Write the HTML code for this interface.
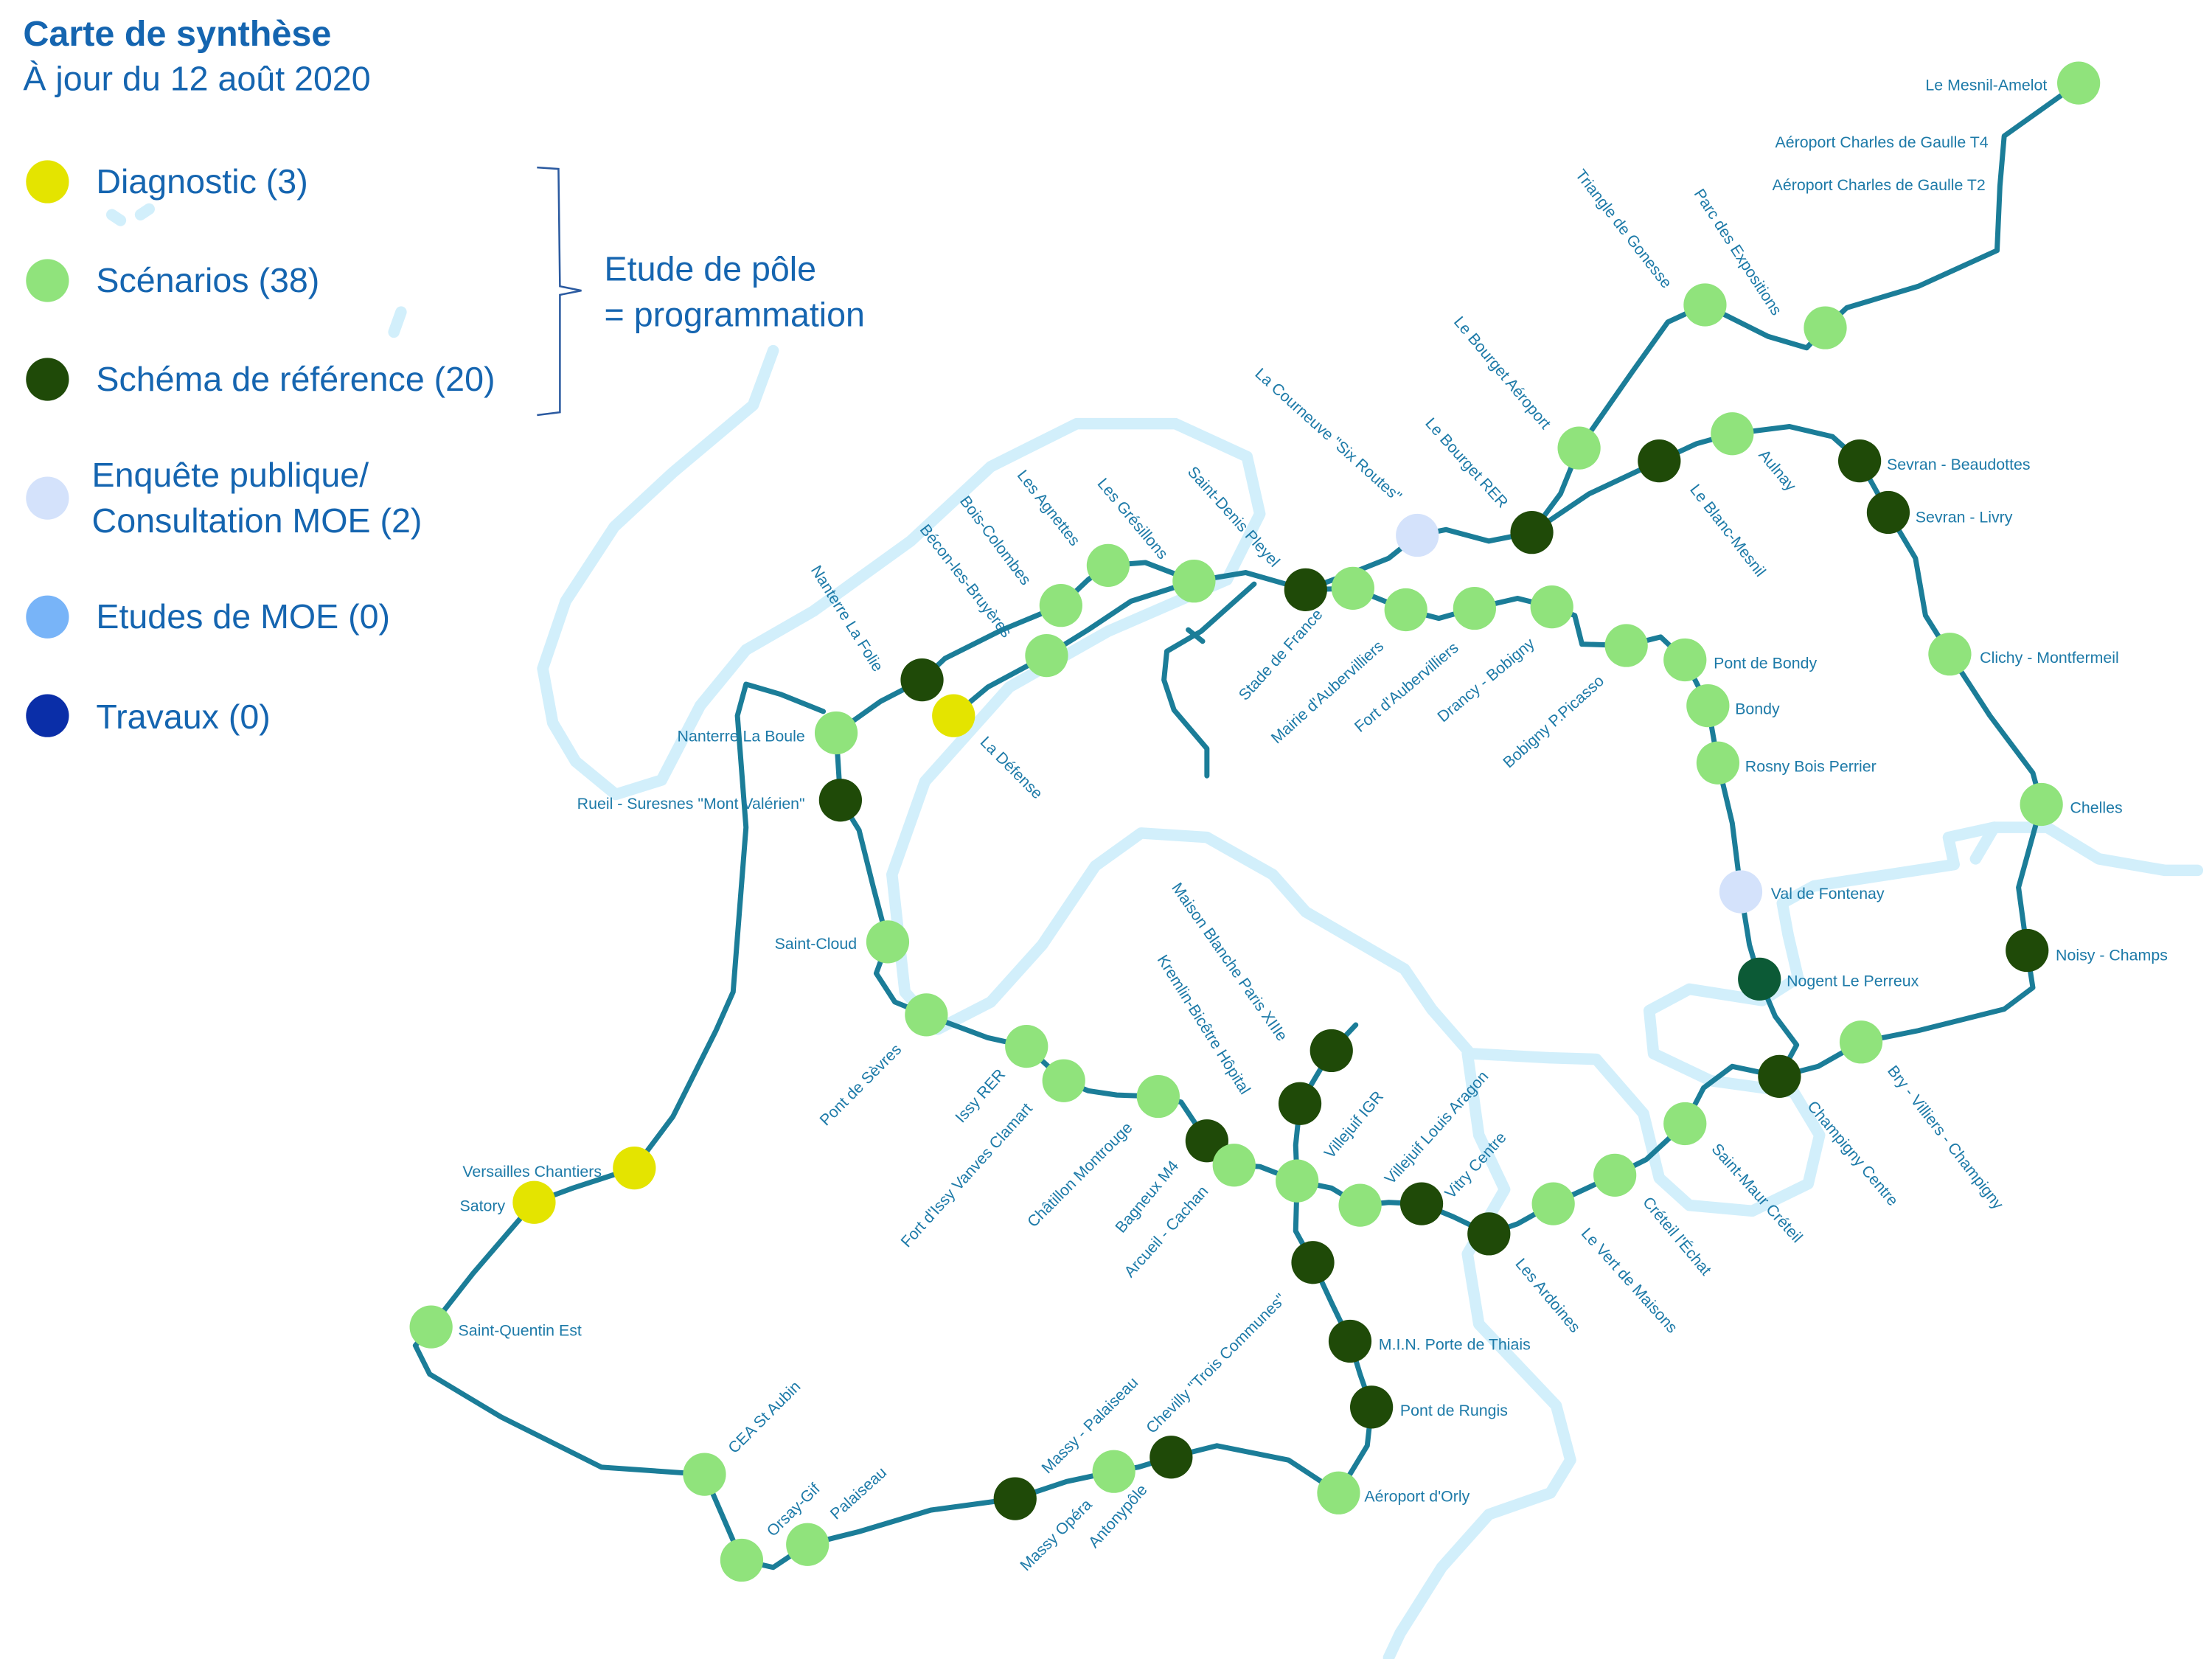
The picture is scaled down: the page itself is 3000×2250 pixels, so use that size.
<!DOCTYPE html>
<html><head><meta charset="utf-8"><style>
html,body{margin:0;padding:0;background:#fff}
svg{display:block}
text{font-family:"Liberation Sans Narrow","Liberation Sans",sans-serif;fill:#1d7aa8}
.lg{font-size:24px;fill:#1565b0}
.s{font-size:11px;fill:#1d7aa8}
.r{fill:none;stroke:#d2effb;stroke-width:8;stroke-linecap:round;stroke-linejoin:round}
.l{fill:none;stroke:#1b7d98;stroke-width:3.6;stroke-linecap:round;stroke-linejoin:round}
.a{fill:#90e37c}.d{fill:#1f4a08}.y{fill:#e4e400}.p{fill:#d4e2fb}
</style></head><body>
<svg width="3000" height="2250" viewBox="0 0 1545 1159" xmlns="http://www.w3.org/2000/svg">
<!-- rivers -->
<path class="r" d="M540 245 L526 283 L470 330 L429 368 L395 420 L379 467 L386 505 L402 532 L430 555 L462 545 L489 493 L521 454 L568 427 L636 378 L692 326 L752 296 L821 296 L871 319 L880 359 L857 405 L774 441 L705 480 L646 546 L623 611 L632 693 L655 719 L692 700 L728 660 L765 605 L797 582 L843 585 L889 611 L912 637 L981 677 L1000 705 L1027 736 L1082 739 L1115 740 L1148 778 L1159 823 L1180 842 L1224 846 L1263 827 L1271 793 L1253 763 L1195 755 L1155 736 L1152 706 L1180 691 L1231 699 L1256 683 L1249 653 L1245 631 L1267 619 L1365 604 L1361 585 L1393 578 L1430 578 L1466 600 L1512 608 L1535 608"/>
<path class="r" d="M1025 736 L1033 793 L1051 831 L1025 876 L1033 925 L1051 944 L1087 982 L1097 1020 L1083 1043 L1040 1058 L1007 1095 L978 1141 L970 1158"/>
<path class="r" d="M1393 578 L1380 600 M78 150 L84 154 M98 150 L104 146 M275 232 L280 218"/>
<!-- lines -->
<path class="l" d="M1452 58 L1400 95 L1397 130 L1395 175 L1340 200 L1290 215 L1275 229 L1262 243 L1235 235 L1191 213 L1165 225 L1140 260 L1103 313 L1090 345 L1070 372"/>
<path class="l" d="M1070 372 L1110 345 L1159 322 L1185 310 L1210 303 L1250 298 L1280 305 L1299 322 L1319 358 L1338 390 L1345 430 L1362 457 L1390 500 L1420 540 L1426 562 L1410 620 L1416 664 L1420 690 L1400 705 L1340 720 L1300 728 L1270 745 L1243 752"/>
<path class="l" d="M1070 372 L1040 378 L1010 370 L990 374 L970 390 L945 400 L912 412 L870 400 L834 406 L800 393 L774 395 L760 405 L741 423 L700 440 L660 460 L644 475 L615 490 L584 512"/>
<path class="l" d="M912 412 L945 411 L982 426 L1005 432 L1030 425 L1060 418 L1084 424 L1100 430 L1105 450 L1136 451 L1160 445 L1177 461 L1193 493 L1200 533 L1210 575 L1216 623 L1222 660 L1229 684 L1240 710 L1255 730 L1243 752 L1210 745 L1190 760 L1177 785 L1150 810 L1128 821 L1085 841 L1060 855 L1040 862 L1015 850 L993 841 L970 840 L950 842 L930 830 L906 825 L880 815 L862 814 L843 797 L825 770 L809 766 L780 765 L760 762 L743 755 L717 731 L690 725 L647 709 L625 700 L612 680 L620 658 L610 620 L600 580 L587 559 L584 512"/>
<path class="l" d="M666 500 L690 480 L731 458 L760 440 L790 420 L834 406"/>
<path class="l" d="M947 716 L930 734 L908 771 L905 800 L906 825 L905 860 L917 882 L930 910 L943 937 L950 960 L958 983 L955 1010 L935 1043 L900 1020 L850 1010 L818 1018 L795 1025 L778 1028 L745 1035 L709 1047 L650 1055 L600 1070 L564 1079 L540 1095 L518 1090 L505 1060 L492 1030 L420 1025 L350 990 L300 960 L290 940 L301 927 L330 890 L373 840 L400 830 L443 816 L470 780 L500 720 L512 693 L521 578 L515 500 L521 478 L545 485 L575 497"/>
<path class="l" d="M876 408 L839 441 L815 455 L813 475 L820 496 L843 523 L843 542 M830 440 L840 448"/>
<!-- stations -->
<g>
<circle class="a" cx="1452" cy="58" r="15"/>
<circle class="a" cx="1191" cy="213" r="15"/><circle class="a" cx="1275" cy="229" r="15"/>
<circle class="a" cx="1103" cy="313" r="15"/><circle class="d" cx="1070" cy="372" r="15"/>
<circle class="p" cx="990" cy="374" r="15"/><circle class="d" cx="1159" cy="322" r="15"/>
<circle class="a" cx="1210" cy="303" r="15"/><circle class="d" cx="1299" cy="322" r="15"/>
<circle class="d" cx="1319" cy="358" r="15"/><circle class="a" cx="1362" cy="457" r="15"/>
<circle class="a" cx="1426" cy="562" r="15"/><circle class="d" cx="1416" cy="664" r="15"/>
<circle class="a" cx="1300" cy="728" r="15"/><circle class="d" cx="1243" cy="752" r="15"/>
<circle style="fill:#0c5a36" cx="1229" cy="684" r="15"/><circle class="p" cx="1216" cy="623" r="15"/>
<circle class="a" cx="1200" cy="533" r="15"/><circle class="a" cx="1193" cy="493" r="15"/>
<circle class="a" cx="1177" cy="461" r="15"/><circle class="a" cx="1136" cy="451" r="15"/>
<circle class="a" cx="1084" cy="424" r="15"/><circle class="a" cx="1030" cy="425" r="15"/>
<circle class="a" cx="982" cy="426" r="15"/><circle class="a" cx="945" cy="411" r="15"/>
<circle class="d" cx="912" cy="412" r="15"/><circle class="a" cx="834" cy="406" r="15"/>
<circle class="a" cx="774" cy="395" r="15"/><circle class="a" cx="741" cy="423" r="15"/>
<circle class="a" cx="731" cy="458" r="15"/><circle class="d" cx="644" cy="475" r="15"/>
<circle class="y" cx="666" cy="500" r="15"/><circle class="a" cx="584" cy="512" r="15"/>
<circle class="d" cx="587" cy="559" r="15"/><circle class="a" cx="620" cy="658" r="15"/>
<circle class="a" cx="647" cy="709" r="15"/><circle class="a" cx="717" cy="731" r="15"/>
<circle class="a" cx="743" cy="755" r="15"/><circle class="a" cx="809" cy="766" r="15"/>
<circle class="d" cx="843" cy="797" r="15"/><circle class="a" cx="862" cy="814" r="15"/>
<circle class="a" cx="906" cy="825" r="15"/><circle class="a" cx="950" cy="842" r="15"/>
<circle class="d" cx="993" cy="841" r="15"/><circle class="d" cx="1040" cy="862" r="15"/>
<circle class="a" cx="1085" cy="841" r="15"/><circle class="a" cx="1128" cy="821" r="15"/>
<circle class="a" cx="1177" cy="785" r="15"/>
<circle class="d" cx="930" cy="734" r="15"/><circle class="d" cx="908" cy="771" r="15"/>
<circle class="d" cx="917" cy="882" r="15"/><circle class="d" cx="943" cy="937" r="15"/>
<circle class="d" cx="958" cy="983" r="15"/><circle class="a" cx="935" cy="1043" r="15"/>
<circle class="d" cx="818" cy="1018" r="15"/><circle class="a" cx="778" cy="1028" r="15"/>
<circle class="d" cx="709" cy="1047" r="15"/><circle class="a" cx="564" cy="1079" r="15"/>
<circle class="a" cx="518" cy="1090" r="15"/><circle class="a" cx="492" cy="1030" r="15"/>
<circle class="a" cx="301" cy="927" r="15"/><circle class="y" cx="373" cy="840" r="15"/>
<circle class="y" cx="443" cy="816" r="15"/>
</g>
<!-- horizontal labels -->
<g>
<text x="1345" y="63" class="s">Le Mesnil-Amelot</text>
<text x="1240" y="103" class="s">Aéroport Charles de Gaulle T4</text>
<text x="1238" y="133" class="s">Aéroport Charles de Gaulle T2</text>
<text x="1318" y="328" class="s">Sevran - Beaudottes</text>
<text x="1338" y="365" class="s">Sevran - Livry</text>
<text x="1383" y="463" class="s">Clichy - Montfermeil</text>
<text x="1446" y="568" class="s">Chelles</text>
<text x="1436" y="671" class="s">Noisy - Champs</text>
<text x="1197" y="467" class="s">Pont de Bondy</text>
<text x="1212" y="499" class="s">Bondy</text>
<text x="1219" y="539" class="s">Rosny Bois Perrier</text>
<text x="1237" y="628" class="s">Val de Fontenay</text>
<text x="1248" y="689" class="s">Nogent Le Perreux</text>
<text x="473" y="518" class="s">Nanterre La Boule</text>
<text x="403" y="565" class="s">Rueil - Suresnes "Mont Valérien"</text>
<text x="541" y="663" class="s">Saint-Cloud</text>
<text x="323" y="822" class="s">Versailles Chantiers</text>
<text x="321" y="846" class="s">Satory</text>
<text x="320" y="933" class="s">Saint-Quentin Est</text>
<text x="963" y="943" class="s">M.I.N. Porte de Thiais</text>
<text x="978" y="989" class="s">Pont de Rungis</text>
<text x="953" y="1049" class="s">Aéroport d'Orly</text>
</g>
<!-- rotated labels -->
<g>
<text class="s" transform="translate(1100,122) rotate(52)">Triangle de Gonesse</text>
<text class="s" transform="translate(1183,135) rotate(57)">Parc des Expositions</text>
<text class="s" transform="translate(1015,225) rotate(50)">Le Bourget Aéroport</text>
<text class="s" transform="translate(995,296) rotate(48)">Le Bourget RER</text>
<text class="s" transform="translate(876,262) rotate(42)">La Courneuve "Six Routes"</text>
<text class="s" transform="translate(1180,342) rotate(52)">Le Blanc-Mesnil</text>
<text class="s" transform="translate(1228,318) rotate(50)">Aulnay</text>
<text class="s" transform="translate(829,330) rotate(48)">Saint-Denis Pleyel</text>
<text class="s" transform="translate(766,338) rotate(50)">Les Grésillons</text>
<text class="s" transform="translate(710,332) rotate(52)">Les Agnettes</text>
<text class="s" transform="translate(670,350) rotate(53)">Bois-Colombes</text>
<text class="s" transform="translate(642,370) rotate(52)">Bécon-les-Bruyères</text>
<text class="s" transform="translate(566,398) rotate(58)">Nanterre La Folie</text>
<text class="s" transform="translate(684,519) rotate(45)">La Défense</text>
<text class="s" transform="translate(870,490) rotate(-48)">Stade de France</text>
<text class="s" transform="translate(892,520) rotate(-42)">Mairie d'Aubervilliers</text>
<text class="s" transform="translate(950,512) rotate(-40)">Fort d'Aubervilliers</text>
<text class="s" transform="translate(1008,505) rotate(-40)">Drancy - Bobigny</text>
<text class="s" transform="translate(1054,537) rotate(-42)">Bobigny P.Picasso</text>
<text class="s" transform="translate(1318,748) rotate(52)">Bry - Villiers - Champigny</text>
<text class="s" transform="translate(1262,773) rotate(50)">Champigny Centre</text>
<text class="s" transform="translate(1195,803) rotate(48)">Saint-Maur Créteil</text>
<text class="s" transform="translate(1147,840) rotate(50)">Créteil l'Échat</text>
<text class="s" transform="translate(1104,862) rotate(48)">Le Vert de Maisons</text>
<text class="s" transform="translate(1058,883) rotate(50)">Les Ardoines</text>
<text class="s" transform="translate(1014,838) rotate(-48)">Vitry Centre</text>
<text class="s" transform="translate(972,828) rotate(-48)">Villejuif Louis Aragon</text>
<text class="s" transform="translate(930,810) rotate(-50)">Villejuif IGR</text>
<text class="s" transform="translate(818,620) rotate(55)">Maison Blanche Paris XIIIe</text>
<text class="s" transform="translate(808,670) rotate(58)">Kremlin-Bicêtre Hôpital</text>
<text class="s" transform="translate(790,893) rotate(-48)">Arcueil - Cachan</text>
<text class="s" transform="translate(784,862) rotate(-50)">Bagneux M4</text>
<text class="s" transform="translate(722,858) rotate(-45)">Châtillon Montrouge</text>
<text class="s" transform="translate(634,872) rotate(-48)">Fort d'Issy Vanves Clamart</text>
<text class="s" transform="translate(672,785) rotate(-48)">Issy RER</text>
<text class="s" transform="translate(577,787) rotate(-45)">Pont de Sèvres</text>
<text class="s" transform="translate(805,1002) rotate(-45)">Chevilly "Trois Communes"</text>
<text class="s" transform="translate(732,1030) rotate(-45)">Massy - Palaiseau</text>
<text class="s" transform="translate(765,1082) rotate(-48)">Antonypôle</text>
<text class="s" transform="translate(717,1098) rotate(-45)">Massy Opéra</text>
<text class="s" transform="translate(584,1062) rotate(-42)">Palaiseau</text>
<text class="s" transform="translate(540,1074) rotate(-45)">Orsay-Gif</text>
<text class="s" transform="translate(513,1016) rotate(-45)">CEA St Aubin</text>
</g>
<!-- legend -->
<text x="16" y="32" style="font-size:25px;font-weight:bold;fill:#1565b0">Carte de synthèse</text>
<text x="16" y="63" class="lg">À jour du 12 août 2020</text>
<circle cx="33" cy="127" r="15" class="y"/><text x="67" y="135" class="lg">Diagnostic (3)</text>
<circle cx="33" cy="196" r="15" class="a"/><text x="67" y="204" class="lg">Scénarios (38)</text>
<circle cx="33" cy="265" r="15" class="d"/><text x="67" y="273" class="lg">Schéma de référence (20)</text>
<circle cx="33" cy="348" r="15" class="p"/><text x="64" y="340" class="lg">Enquête publique/</text><text x="64" y="372" class="lg">Consultation MOE (2)</text>
<circle cx="33" cy="431" r="15" style="fill:#78b4f8"/><text x="67" y="439" class="lg">Etudes de MOE (0)</text>
<circle cx="33" cy="500" r="15" style="fill:#0a2ea8"/><text x="67" y="509" class="lg">Travaux (0)</text>
<path d="M375 117 L390 118 L391 200 L406 203 L391 206 L391 288 L375 290" fill="none" stroke="#2b5aa0" stroke-width="1.3"/>
<text x="422" y="196" class="lg">Etude de pôle</text>
<text x="422" y="228" class="lg">= programmation</text>
</svg>
</body></html>
